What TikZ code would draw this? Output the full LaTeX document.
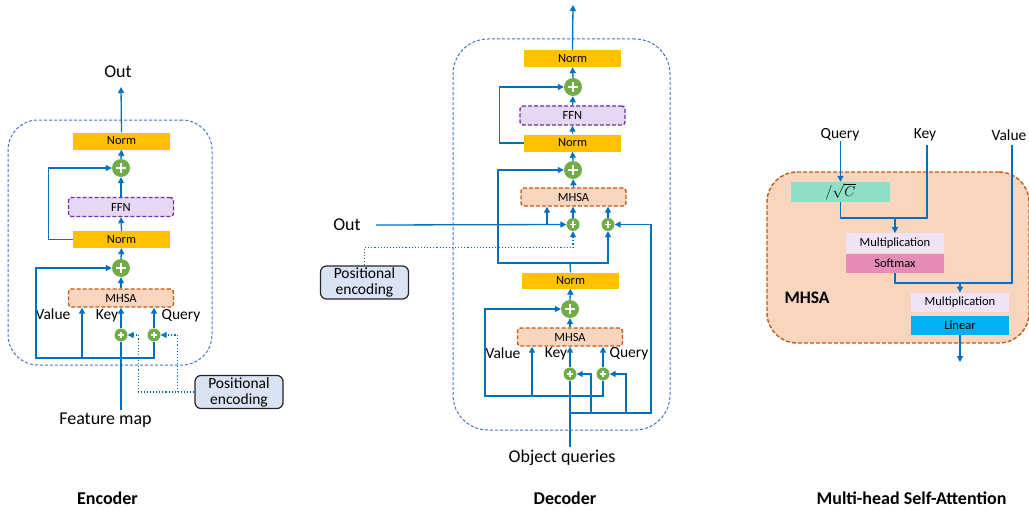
\documentclass[tikz,border=0pt]{standalone}
\usepackage{fontspec}
\setmainfont{Carlito}
\usetikzlibrary{arrows.meta,calc}

\definecolor{linkblue}{HTML}{0070C0}
\definecolor{framblue}{HTML}{4472C4}
\definecolor{normfill}{HTML}{FFC000}
\definecolor{ffnfill}{HTML}{E6D7F2}
\definecolor{ffnline}{HTML}{7030A0}
\definecolor{attfill}{HTML}{F8D5BF}
\definecolor{attline}{HTML}{C55A11}
\definecolor{addgreen}{HTML}{70AD47}
\definecolor{posfill}{HTML}{DAE3F3}
\definecolor{scalefill}{HTML}{8FDFC6}
\definecolor{mulfill}{HTML}{EEE3F7}
\definecolor{softfill}{HTML}{E58DB6}
\definecolor{linfill}{HTML}{00B0F0}

\tikzset{
  blk/.style={inner sep=0pt, font=\fontsize{12.5}{14}\selectfont},
  normbox/.style={blk, fill=normfill, minimum width=97pt, minimum height=17pt},
  ffnbox/.style={blk, fill=ffnfill, draw=ffnline, line width=1.4pt,
    dash pattern=on 4pt off 2pt, rounded corners=3pt,
    minimum width=105pt, minimum height=19pt},
  attbox/.style={blk, fill=attfill, draw=attline, line width=1.4pt,
    dash pattern=on 4pt off 2pt, rounded corners=3pt,
    minimum width=105pt, minimum height=18pt},
  addnode/.style={circle, fill=addgreen, inner sep=0pt, minimum size=#1,
    path picture={
      \draw[white, line width=1.4pt]
        ($(path picture bounding box.west)!0.24!(path picture bounding box.east)$) --
        ($(path picture bounding box.west)!0.76!(path picture bounding box.east)$)
        ($(path picture bounding box.north)!0.24!(path picture bounding box.south)$) --
        ($(path picture bounding box.north)!0.76!(path picture bounding box.south)$);}},
  bigadd/.style={addnode=18pt},
  smalladd/.style={addnode=13pt},
  posbox/.style={fill=posfill, draw=black!85, line width=1.2pt, rounded corners=6pt,
    minimum width=88pt, minimum height=33pt, inner sep=0pt, align=center,
    font=\fontsize{15.5}{16}\selectfont},
  frame/.style={draw=framblue, line width=1pt, dash pattern=on 3pt off 2pt,
    inner sep=0pt},
  biglabel/.style={inner sep=0pt, font=\fontsize{18}{21}\selectfont},
  midlabel/.style={inner sep=0pt, font=\fontsize{15.5}{18}\selectfont},
  caption/.style={inner sep=0pt, font=\bfseries\fontsize{18}{21}\selectfont},
  ln/.style={draw=linkblue, line width=1.3pt},
  arr/.style={ln, -{Triangle[length=6pt,width=6pt]}},
  dotarr/.style={draw=linkblue, line width=1.1pt, dotted,
    -{Triangle[length=6pt,width=6pt]}},
  flatbox/.style={blk, minimum width=98pt, minimum height=19.5pt},
}

\begin{document}
\begin{tikzpicture}[x=1pt,y=-1pt]
\useasboundingbox (0,0) rectangle (1029,511);

% ---------------- Encoder ----------------
\node[frame, rounded corners=30pt, minimum width=204pt, minimum height=245pt]
  (ebox) at (110,242.5) {};
\node[biglabel] (eOut) at (118,72) {Out};
\coordinate (eTip) at (121,87);
\node[normbox] (eN2) at (121.5,141) {Norm};
\node[bigadd] (eP2) at (121,168) {};
\node[ffnbox] (eFFN) at (121,207) {FFN};
\node[normbox] (eN1) at (121.5,239.5) {Norm};
\node[bigadd] (eP1) at (121,268) {};
\node[attbox] (eMH) at (121,298) {MHSA};
\node[midlabel] (eVal) at (53,314) {Value};
\node[midlabel] (eKey) at (107,316) {Key};
\node[midlabel] (eQry) at (181,316) {Query};
\node[smalladd] (eKp) at (121,335) {};
\node[smalladd] (eQp) at (154,335) {};
\node[posbox] (ePE) at (239,392) {Positional\\encoding};
\node[biglabel] (eFM) at (105.5,420) {Feature map};
\coordinate (eJ) at (121,358);
\coordinate (eVb) at (82,358);

\draw[arr] (eN2.north) -- (eTip);
\draw[arr] (eP2.north) -- (eN2.south);
\draw[arr] (eFFN.north) -- (eP2.south);
\draw[arr] (eN1.north) -- (eFFN.south);
\draw[arr] (eP1.north) -- (eN1.south);
\draw[arr] (eMH.north) -- (eP1.south);
\draw[arr] (eN1.west) -- ++(-24,0) |- (eP2.west);
\draw[arr] (eJ) -- ++(-85,0) |- (eP1.west);
\draw[arr] (eVb) -- (eVb |- eMH.south);
\draw[ln] (eJ) -| (eQp.south);
\draw[arr] (eQp.north) -- (eQp.north |- eMH.south);
\draw[arr] (eKp.north) -- (eMH.south);
\draw[ln] ([yshift=3pt]eKp.south |- eFM.north) -- (eKp.south);
\draw[dotarr] (ePE.west) -- ++(-56,0) |- (eKp.east);
\draw[dotarr] ([xshift=-17pt]ePE.west) |- (eQp.east);

% ---------------- Decoder ----------------
\node[frame, rounded corners=35pt, minimum width=217pt, minimum height=391pt]
  (dbox) at (561.5,234.5) {};
\coordinate (dTip) at (573,5);
\node[normbox] (dN3) at (572.5,58.5) {Norm};
\node[bigadd] (dP3) at (573,87) {};
\node[ffnbox] (dFFN) at (572.5,115.5) {FFN};
\node[normbox] (dN2) at (572.5,143) {Norm};
\node[bigadd] (dP2) at (573,170) {};
\node[attbox] (dMH2) at (573.5,197) {MHSA};
\node[biglabel] (dOut) at (347,225) {Out};
\node[smalladd] (dKp2) at (573,224.5) {};
\node[smalladd] (dQp2) at (608,224.5) {};
\node[posbox] (dPE) at (364.5,282.5) {Positional\\encoding};
\node[normbox, minimum height=16pt] (dN1) at (570.5,280.5) {Norm};
\node[bigadd] (dP1) at (570,309) {};
\node[attbox] (dMH1) at (570,337) {MHSA};
\node[midlabel] (dVal) at (503,353) {Value};
\node[midlabel] (dKey) at (556,354) {Key};
\node[midlabel] (dQry) at (629,354) {Query};
\node[smalladd] (dKp1) at (570,374) {};
\node[smalladd] (dQp1) at (603,374) {};
\node[biglabel] (dOQ) at (562,458) {Object queries};
\coordinate (dJ2) at (570,263);
\coordinate (dVb2) at (547,224.5);
\coordinate (dJ1) at (570,396);
\coordinate (dVb1) at (532,396);
\coordinate (dJ0) at (570,413);
\coordinate (dKb) at (591,413);
\coordinate (dQb) at (626,413);

\draw[arr] (dN3.north) -- (dTip);
\draw[arr] (dP3.north) -- (dN3.south);
\draw[arr] (dFFN.north) -- (dP3.south);
\draw[arr] (dN2.north) -- (dFFN.south);
\draw[arr] (dP2.north) -- (dN2.south);
\draw[arr] (dMH2.north) -- (dP2.south);
\draw[arr] (dN2.west) -- ++(-24,0) |- (dP3.west);
\draw[ln] (dN1.north) -- (dJ2);
\draw[arr] (dJ2) -- ++(-72,0) |- (dP2.west);
\draw[arr] (dJ2) -| (dQp2.south);
\draw[arr] (dQp2.north) -- (dQp2.north |- dMH2.south);
\draw[arr] (dKp2.north) -- (dKp2.north |- dMH2.south);
\draw[arr] ([xshift=15pt]dOut.east) -- (dKp2.west);
\draw[arr] (dVb2) -- (dVb2 |- dMH2.south);
\draw[dotarr] (dPE.north) -- ++(0,-18) -| (dKp2.south);

\draw[arr] (dP1.north) -- (dN1.south);
\draw[arr] (dMH1.north) -- (dP1.south);
\draw[arr] (dJ1) -- ++(-85,0) |- (dP1.west);
\draw[arr] (dVb1) -- (dVb1 |- dMH1.south);
\draw[ln] (dJ1) -| (dQp1.south);
\draw[arr] (dQp1.north) -- (dQp1.north |- dMH1.south);
\draw[arr] (dKp1.north) -- (dKp1.north |- dMH1.south);
\draw[ln] ([yshift=3pt]dKp1.south |- dOQ.north) -- (dKp1.south);
\draw[arr] (dJ0) -- ++(81,0) |- (dQp2.east);
\draw[arr] (dKb) |- (dKp1.east);
\draw[arr] (dQb) |- (dQp1.east);

% ---------------- Multi-head self-attention ----------------
\node[fill=attfill, draw=attline, line width=1.4pt, dash pattern=on 4pt off 2pt,
  rounded corners=30pt, minimum width=262pt, minimum height=171pt, inner sep=0pt]
  (mbox) at (898,257.5) {};
\node[midlabel] (mQ) at (840,135) {Query};
\node[midlabel] (mK) at (925,135) {Key};
\node[midlabel] (mV) at (1009,135) {Value};
\node[flatbox, fill=scalefill, minimum width=99pt, minimum height=20pt,
  font=\fontsize{14}{16}\selectfont] (mC) at (840.5,192) {$/\sqrt{C}$};
\node[flatbox, fill=mulfill] (mM1) at (895,243) {Multiplication};
\node[flatbox, fill=softfill] (mS) at (895,263.5) {Softmax};
\node[flatbox, fill=mulfill] (mM2) at (960,302.5) {Multiplication};
\node[flatbox, fill=linfill] (mL) at (960,325.5) {Linear};
\node[inner sep=0pt, font=\bfseries\fontsize{17.5}{20}\selectfont] (mLbl) at (807,298) {MHSA};
\coordinate (mKt) at (927,145);
\coordinate (mVt) at (1012,145);
\coordinate (mJ1) at (895,218);
\coordinate (mJ2) at (960,283);
\coordinate (mOut) at (960,362);

\draw[arr] (mC.north |- mQ.south) -- (mC.north);
\draw[ln] (mC.south) |- (mJ1) -- (mJ1 -| mKt) -- (mKt);
\draw[arr] (mJ1) -- (mM1.north);
\draw[ln] (mS.south) |- (mJ2) -- (mJ2 -| mVt) -- (mVt);
\draw[arr] (mJ2) -- (mM2.north);
\draw[arr] (mL.south) -- (mOut);

% ---------------- captions ----------------
\node[caption] (capE) at (107.5,498) {Encoder};
\node[caption] (capD) at (565,498) {Decoder};
\node[caption] (capM) at (911.5,498) {Multi-head Self-Attention};
\end{tikzpicture}
\end{document}
